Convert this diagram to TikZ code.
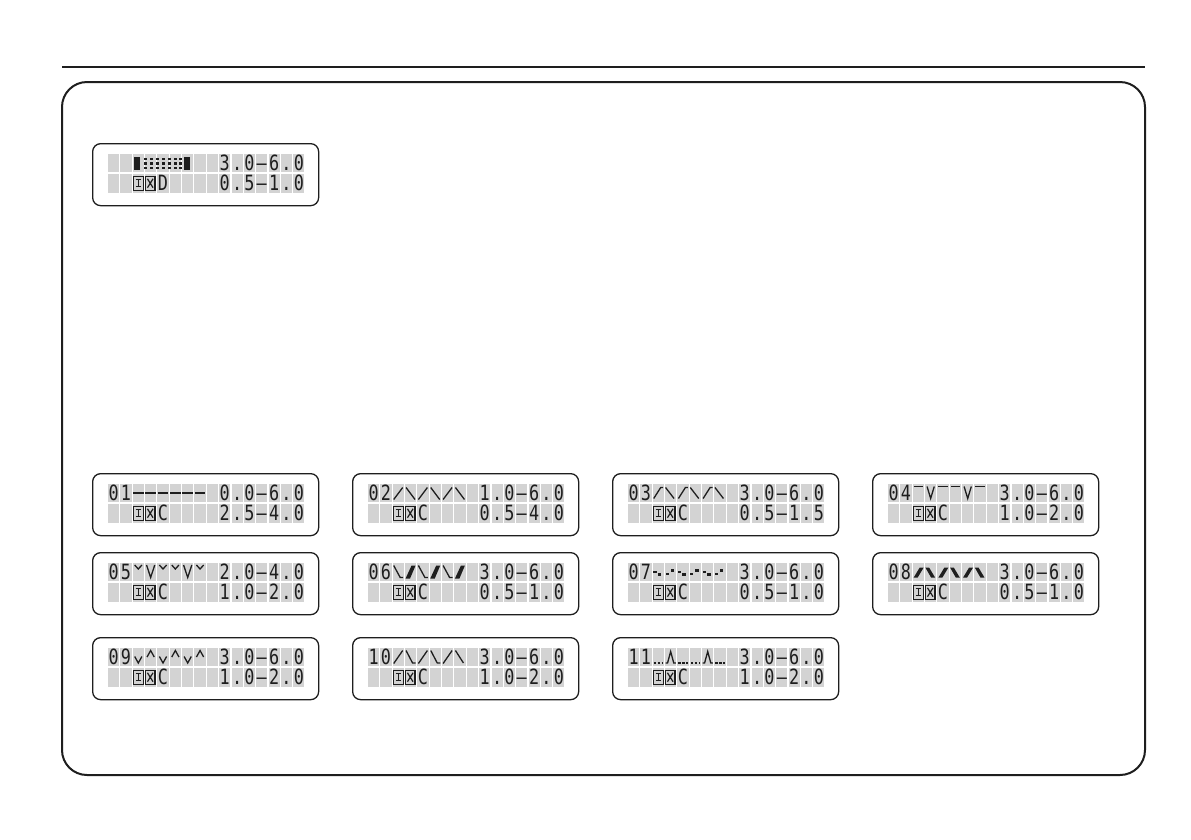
\documentclass[tikz,border=0pt]{standalone}
\usepackage{fontspec}
\setmonofont{DejaVu Sans Mono}
\definecolor{cellgray}{HTML}{D3D3D3}
\definecolor{ink}{HTML}{1E1E1E}
\tikzset{
 lcdframe/.style={draw=ink, line width=1.3pt, rounded corners=8pt, fill=white, inner sep=0pt},
 cellbox/.style={fill=cellgray},
 lcdch/.style={inner sep=0pt, anchor=base, text=ink, font=\ttfamily\fontsize{21}{21}\selectfont},
 wv/.style={draw=ink, line width=1.3pt, line join=miter},
 wvthick/.style={fill=ink},
}
\def\P{12.35}
\newcommand\lcdtxt[6]{% name X Y row start list
 \foreach \ch [count=\k from #5] in {#6}{%
  \node[lcdch] (#1-#4-\k) at ({#2+16+\k*\P+5.6},{#3+10.5+#4*20.5+9.25+7.6}) {\scalebox{0.8}[1]{\ch}};}%
}
\newcommand\lcdicon[3]{% name X Y
 \begin{scope}[shift={({#2+16+2*\P},{#3+31})}, draw=ink, line width=1.2pt]
  \draw (0.8,2.2) rectangle (10.4,16.3);
  \draw (3,5.8) -- (8.2,5.8) (5.6,5.8) -- (5.6,12.8) (3,12.8) -- (8.2,12.8);
  \draw ({\P+0.4},2.2) rectangle ({\P+10},16.3);
  \draw ({\P+2.4},4.8) -- ({\P+8},13.7) ({\P+8},4.8) -- ({\P+2.4},13.7);
 \end{scope}}
\newcommand\lcdbox[3]{% name X Y
 \node[lcdframe, minimum width=226pt, minimum height=62pt, anchor=north west] (#1) at (#2,#3) {};
 \foreach \r in {0,1}{\foreach \c in {0,...,15}{\fill[cellbox] ({#2+16+\c*\P},{#3+10.5+\r*20.5}) rectangle ++(11.2,18.5);}}%
}
\newcommand\wave[3]{% X Y code
 \begin{scope}[shift={({#1+16+2*\P},{#2+10.5})}] #3 \end{scope}}
\newcommand\disp[8]{% name X Y num row0vals letter row1vals pattern
 \lcdbox{#1}{#2}{#3}
 \lcdtxt{#1}{#2}{#3}{0}{0}{#4}
 \lcdtxt{#1}{#2}{#3}{0}{9}{#5}
 \lcdicon{#1}{#2}{#3}
 \lcdtxt{#1}{#2}{#3}{1}{4}{#6}
 \lcdtxt{#1}{#2}{#3}{1}{9}{#7}
 \wave{#2}{#3}{#8}}
\begin{document}
\begin{tikzpicture}[x=1pt,y=-1pt]
\useasboundingbox (0,0) rectangle (1191,839);
\fill[white] (0,0) rectangle (1191,839);
\draw[ink, line width=2pt] (62,67) -- (1145,67);
\draw[ink, line width=2pt, rounded corners=25pt] (62,82) rectangle (1145,775);

% top display
\lcdbox{top}{92}{143}
\lcdtxt{top}{92}{143}{0}{9}{3,.,0,–,6,.,0}
\lcdicon{top}{92}{143}
\lcdtxt{top}{92}{143}{1}{4}{D}
\lcdtxt{top}{92}{143}{1}{9}{0,.,5,–,1,.,0}
\wave{92}{143}{
 \fill[ink] (1,3) rectangle (7,16);
 \foreach \xx in {11,17,23,29,35,41,46}{\foreach \yy in {4,8.5,13}{\fill[ink] (\xx,\yy) rectangle ++(2.8,2.8);}}
 \fill[ink] (51,3) rectangle (57,16);
}

% 01
\disp{d01}{92}{473}{0,1}{0,.,0,–,6,.,0}{C}{2,.,5,–,4,.,0}{
 \foreach \c in {0,...,5}{\draw[ink, line width=2.2pt] ({\c*\P+0.3},9.5) -- ({\c*\P+10.9},9.5);}
}
% 02
\disp{d02}{352}{473}{0,2}{1,.,0,–,6,.,0}{C}{0,.,5,–,4,.,0}{
 \foreach \c in {0,2,4}{\draw[wv] ({\c*\P+1},16) -- ({\c*\P+10},4);}
 \foreach \c in {1,3,5}{\draw[wv] ({\c*\P+1},4) -- ({\c*\P+10},16);}
}
% 03
\disp{d03}{612}{473}{0,3}{3,.,0,–,6,.,0}{C}{0,.,5,–,1,.,5}{
 \foreach \c in {0,2,4}{\draw[wv] ({\c*\P+1},15) -- ({\c*\P+8},4) -- ({\c*\P+10.5},4);}
 \foreach \c in {1,3,5}{\draw[wv] ({\c*\P+0.5},4) -- ({\c*\P+9},15);}
}
% 04
\disp{d04}{872}{473}{0,4}{3,.,0,–,6,.,0}{C}{1,.,0,–,2,.,0}{
 \foreach \c in {0,2,3,5}{\draw[wv] ({\c*\P+1},3) -- ({\c*\P+10.2},3);}
 \foreach \c in {1,4}{\draw[wv] ({\c*\P+2},3) -- ({\c*\P+5.6},15) -- ({\c*\P+9.2},3);}
}
% 05
\disp{d05}{92}{552}{0,5}{2,.,0,–,4,.,0}{C}{1,.,0,–,2,.,0}{
 \foreach \c in {0,2,3,5}{\draw[wv] ({\c*\P+2},2.5) -- ({\c*\P+5.6},6.5) -- ({\c*\P+9.2},2.5);}
 \foreach \c in {1,4}{\draw[wv] ({\c*\P+1.5},2.5) -- ({\c*\P+5.6},15) -- ({\c*\P+9.7},2.5);}
}
% 06
\disp{d06}{352}{552}{0,6}{3,.,0,–,6,.,0}{C}{0,.,5,–,1,.,0}{
 \foreach \c in {0,2,4}{\draw[wv] ({\c*\P+1},3) -- ({\c*\P+7.5},15) -- ({\c*\P+10.5},15);}
 \foreach \c in {1,3,5}{\fill[ink] ({\c*\P+0.5},16) -- ({\c*\P+5},16) -- ({\c*\P+10.5},3) -- ({\c*\P+6.5},3) -- cycle;}
}
% 07
\disp{d07}{612}{552}{0,7}{3,.,0,–,6,.,0}{C}{0,.,5,–,1,.,0}{
 \foreach \c in {0,2,4}{\fill[ink] ({\c*\P+0.5},8) rectangle ({\c*\P+4},10.5); \fill[ink] ({\c*\P+5},10) rectangle ({\c*\P+8.5},13);}
 \foreach \c in {1,3,5}{\fill[ink] ({\c*\P+0.5},10) rectangle ({\c*\P+3.5},12.5); \fill[ink] ({\c*\P+5.5},6) rectangle ({\c*\P+9},9);}
}
% 08
\disp{d08}{872}{552}{0,8}{3,.,0,–,6,.,0}{C}{0,.,5,–,1,.,0}{
 \foreach \c in {0,2,4}{\fill[ink] ({\c*\P+1},15) -- ({\c*\P+5},15) -- ({\c*\P+11},5) -- ({\c*\P+7},5) -- cycle;}
 \foreach \c in {1,3,5}{\fill[ink] ({\c*\P+0.3},5) -- ({\c*\P+4},5) -- ({\c*\P+10},15) -- ({\c*\P+6},15) -- cycle;}
}
% 09
\disp{d09}{92}{637}{0,9}{3,.,0,–,6,.,0}{C}{1,.,0,–,2,.,0}{
 \foreach \c in {0,2,4}{\draw[wv] ({\c*\P+2},9) -- ({\c*\P+5.6},15.5) -- ({\c*\P+9.2},9);}
 \foreach \c in {1,3,5}{\draw[wv] ({\c*\P+2},9.5) -- ({\c*\P+5.6},3) -- ({\c*\P+9.2},9.5);}
}
% 10
\disp{d10}{352}{637}{1,0}{3,.,0,–,6,.,0}{C}{1,.,0,–,2,.,0}{
 \foreach \c in {0,2,4}{\draw[wv] ({\c*\P+1},16) -- ({\c*\P+10},3);}
 \foreach \c in {1,3}{\draw[wv] ({\c*\P+1},3) -- ({\c*\P+7.5},15.5) -- ({\c*\P+10.5},15.5);}
 \draw[wv] ({5*\P+1},3) -- ({5*\P+9},15.5);
}
% 11
\disp{d11}{612}{637}{1,1}{3,.,0,–,6,.,0}{C}{1,.,0,–,2,.,0}{
 \foreach \c in {0,2,3,5}{\draw[ink, line width=1.3pt, dash pattern=on 2.5pt off 1.5pt] ({\c*\P+1},15.5) -- ({\c*\P+10.5},15.5);}
 \foreach \c in {1,4}{\draw[wv] ({\c*\P+0.5},15.5) -- ({\c*\P+2.5},15.5) -- ({\c*\P+5.6},4) -- ({\c*\P+8.7},15.5) -- ({\c*\P+10.7},15.5);}
}
\end{tikzpicture}
\end{document}
